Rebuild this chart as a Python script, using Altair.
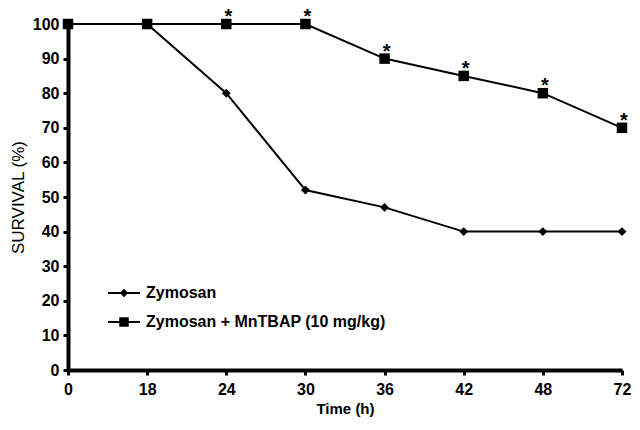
import altair as alt
import pandas as pd

times = ["0", "18", "24", "30", "36", "42", "48", "72"]
zymosan = [100, 100, 80, 52, 47, 40, 40, 40]
mntbap = [100, 100, 100, 100, 90, 85, 80, 70]
star_times = ["24", "30", "36", "42", "48", "72"]
series_names = ["Zymosan", "Zymosan + MnTBAP (10 mg/kg)"]

df = pd.DataFrame({
    "time": times * 2,
    "survival": zymosan + mntbap,
    "series": [series_names[0]] * len(times) + [series_names[1]] * len(times),
})
stars = pd.DataFrame({
    "time": star_times,
    "survival": [mntbap[times.index(t)] for t in star_times],
})

FONT = "Liberation Sans"
xscale = alt.Scale(domain=times, padding=0)
yscale = alt.Scale(domain=[0, 100])

axis_common = dict(
    domainColor="black", domainWidth=4, tickColor="black", tickWidth=3, tickSize=5,
    grid=False, labelFont=FONT, labelFontSize=16, labelFontWeight="bold", labelColor="black",
    titleColor="black",
)
x = alt.X("time:O", sort=times, scale=xscale,
          axis=alt.Axis(title="Time (h)", labelAngle=0, labelPadding=6, titlePadding=4,
                        titleFont=FONT, titleFontSize=15, titleFontWeight="bold", **axis_common))
y = alt.Y("survival:Q", scale=yscale,
          axis=alt.Axis(title="SURVIVAL (%)", values=list(range(0, 101, 10)), labelPadding=4,
                        titlePadding=5, titleFont=FONT, titleFontSize=17, titleFontWeight="normal",
                        **axis_common))

base = alt.Chart(df)
lines = base.mark_line(color="black", strokeWidth=2).encode(x=x, y=y, detail="series:N")
pts_z = base.transform_filter(alt.datum.series == series_names[0]).mark_point(
    shape="diamond", filled=True, color="black", size=80, opacity=1).encode(x=x, y=y)
pts_m = base.transform_filter(alt.datum.series == series_names[1]).mark_point(
    shape="square", filled=True, color="black", size=110, opacity=1).encode(x=x, y=y)
star_layer = alt.Chart(stars).mark_text(
    text="*", fontSize=20, fontWeight="bold", font=FONT, baseline="middle",
    dy=-7, dx=2, color="black"
).encode(x=x, y=y)

# manual legend
leg = pd.DataFrame({"series": series_names})
leg_y = {series_names[0]: 269, series_names[1]: 298}
legend_layers = []
for name, shp, sz in [(series_names[0], "diamond", 70), (series_names[1], "square", 90)]:
    d = alt.Chart(leg).transform_filter(alt.datum.series == name)
    legend_layers.append(d.mark_rule(color="black", strokeWidth=2).encode(
        x=alt.value(40), x2=alt.value(72), y=alt.value(leg_y[name])))
    legend_layers.append(d.mark_point(shape=shp, filled=True, color="black", size=sz, opacity=1).encode(
        x=alt.value(56), y=alt.value(leg_y[name])))
    legend_layers.append(d.mark_text(align="left", baseline="middle", font=FONT, fontSize=16,
                                     fontWeight="bold", color="black").encode(
        x=alt.value(78), y=alt.value(leg_y[name]), text="series:N"))

chart = alt.layer(lines, pts_z, pts_m, star_layer, *legend_layers).properties(
    width=554, height=346,
    autosize=alt.AutoSizeParams(type="none"),
    padding={"left": 60, "top": 16, "right": 10, "bottom": 52},
).configure_view(stroke=None)

chart.save("out.html", embed_options={"renderer": "svg", "actions": False})
